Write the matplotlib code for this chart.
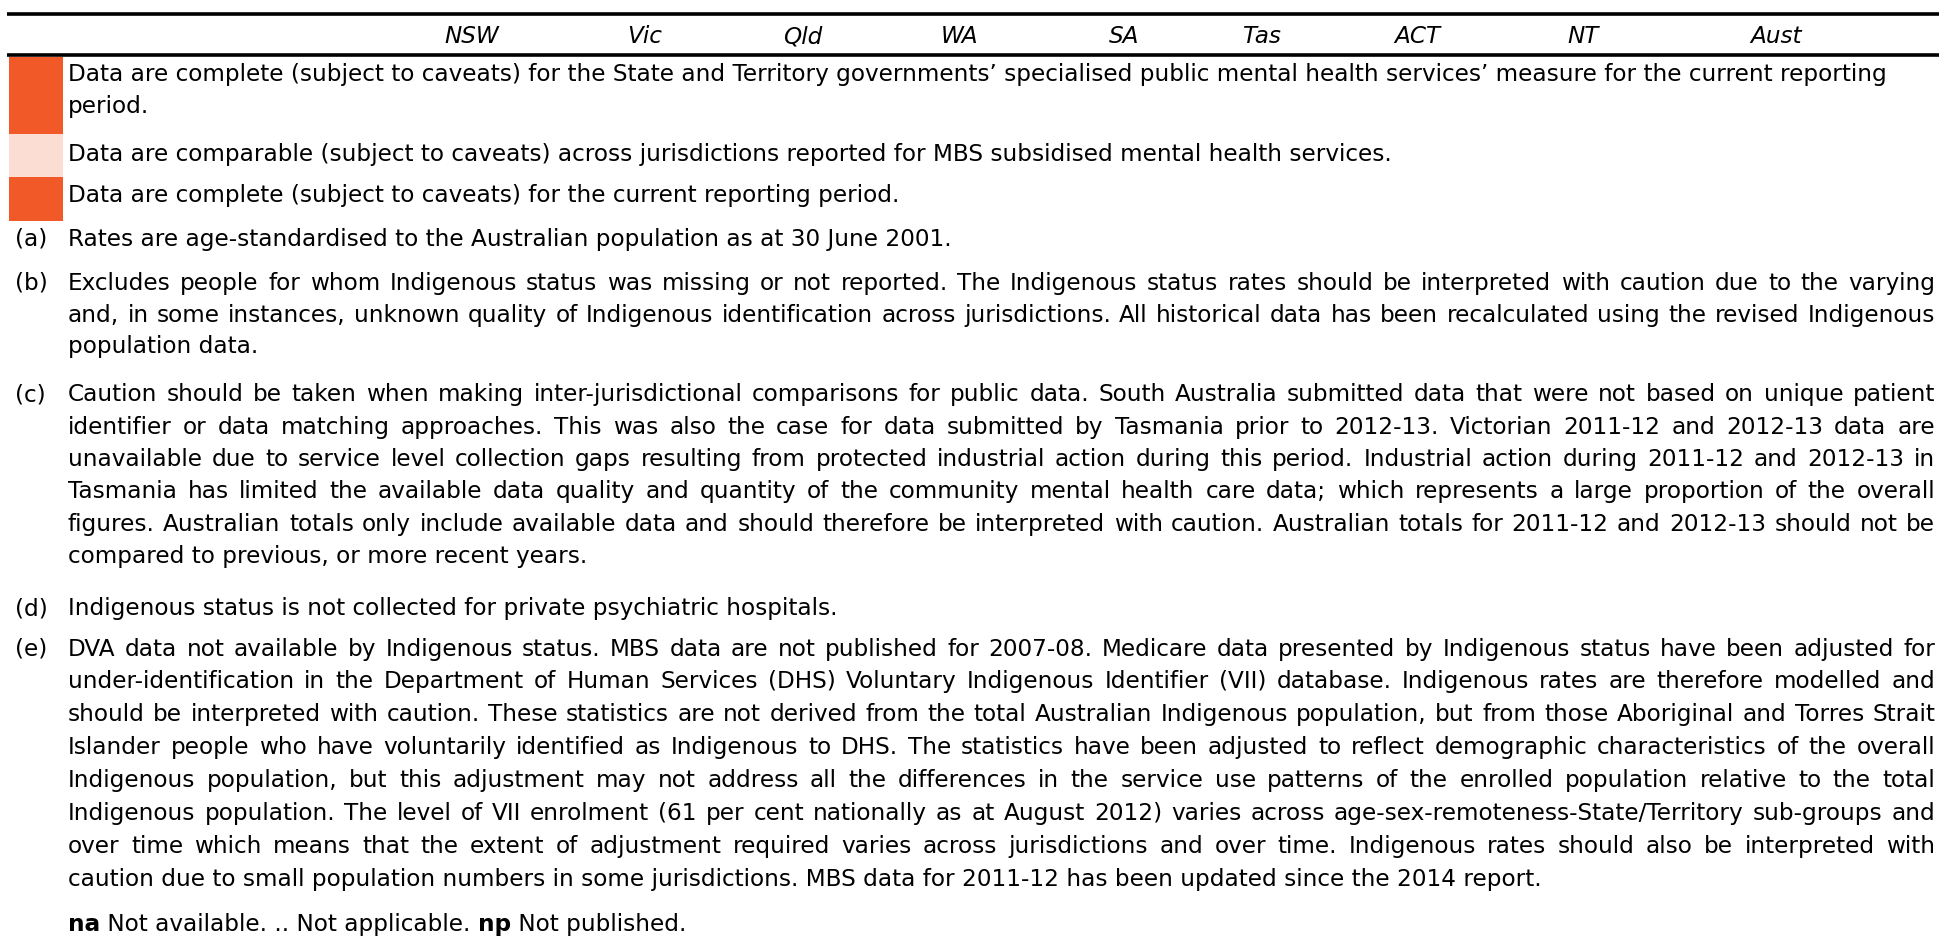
import matplotlib
matplotlib.use("Agg")
import matplotlib.pyplot as plt
from matplotlib.patches import Rectangle

# column heads
states = ["NSW", "Vic", "Qld", "WA", "SA", "Tas", "ACT", "NT", "Aust"]

# shaded key rows
key_colours = ["#F15A28", "#FCDDD3", "#F15A28"]
key_lines = [
    ["Data are complete (subject to caveats) for the State and Territory governments\u2019 specialised public mental health services\u2019 measure for the current reporting",
     "period."],
    ["Data are comparable (subject to caveats) across jurisdictions reported for MBS subsidised mental health services."],
    ["Data are complete (subject to caveats) for the current reporting period."],
]

note_labels = ["(a)", "(b)", "(c)", "(d)", "(e)"]
note_lines = [
    ["Rates are age-standardised to the Australian population as at 30 June 2001."],
    ["Excludes people for whom Indigenous status was missing or not reported. The Indigenous status rates should be interpreted with caution due to the varying",
     "and, in some instances, unknown quality of Indigenous identification across jurisdictions. All historical data has been recalculated using the revised Indigenous",
     "population data."],
    ["Caution should be taken when making inter-jurisdictional comparisons for public data. South Australia submitted data that were not based on unique patient",
     "identifier or data matching approaches. This was also the case for data submitted by Tasmania prior to 2012-13. Victorian 2011-12 and 2012-13 data are",
     "unavailable due to service level collection gaps resulting from protected industrial action during this period. Industrial action during 2011-12 and 2012-13 in",
     "Tasmania has limited the available data quality and quantity of the community mental health care data; which represents a large proportion of the overall",
     "figures. Australian totals only include available data and should therefore be interpreted with caution. Australian totals for 2011-12 and 2012-13 should not be",
     "compared to previous, or more recent years."],
    ["Indigenous status is not collected for private psychiatric hospitals."],
    ["DVA data not available by Indigenous status. MBS data are not published for 2007-08. Medicare data presented by Indigenous status have been adjusted for",
     "under-identification in the Department of Human Services (DHS) Voluntary Indigenous Identifier (VII) database. Indigenous rates are therefore modelled and",
     "should be interpreted with caution. These statistics are not derived from the total Australian Indigenous population, but from those Aboriginal and Torres Strait",
     "Islander people who have voluntarily identified as Indigenous to DHS. The statistics have been adjusted to reflect demographic characteristics of the overall",
     "Indigenous population, but this adjustment may not address all the differences in the service use patterns of the enrolled population relative to the total",
     "Indigenous population. The level of VII enrolment (61 per cent nationally as at August 2012) varies across age-sex-remoteness-State/Territory sub-groups and",
     "over time which means that the extent of adjustment required varies across jurisdictions and over time. Indigenous rates should also be interpreted with",
     "caution due to small population numbers in some jurisdictions. MBS data for 2011-12 has been updated since the 2014 report."],
]

symbols = [("na", True), (" Not available. .. Not applicable. ", False), ("np", True), (" Not published.", False)]

# layout (pixels)
W, H = 1939, 939
state_x = [472, 645, 803, 960, 1124, 1262, 1417, 1583, 1776]
key_base = [[81, 113], [161], [202]]
key_box = [(57, 134), (134, 177), (177, 221)]
note_base = [[246], [290, 322, 353], [401, 434, 466, 498, 531, 563], [615],
             [656, 688, 721, 754, 787, 820, 853, 886]]
sym_base = 931
LEFT, RIGHT = 68, 1935
KEY_W = 1820  # width of the first key line in the reference
plt.rcParams["font.family"] = ["DejaVu Sans"]

fig = plt.figure(figsize=(W / 100, H / 100), dpi=100)
ax = fig.add_axes([0, 0, 1, 1])
ax.set_xlim(0, W)
ax.set_ylim(H, 0)
ax.axis("off")
renderer = fig.canvas.get_renderer()


def width(s, fs, **kw):
    t = ax.text(0, 0, s, fontsize=fs, **kw)
    w = t.get_window_extent(renderer).width
    t.remove()
    return w


FS = 16.0
FS = FS * KEY_W / width(key_lines[0][0], FS)


def put_line(s, y, justify=False):
    if not justify:
        ax.text(LEFT, y, s, fontsize=FS, va="baseline", ha="left")
        return
    words = s.split(" ")
    ws = [width(w, FS) for w in words]
    gap = (RIGHT - LEFT - sum(ws)) / (len(words) - 1)
    x = LEFT
    for w, wd in zip(words, ws):
        ax.text(x, y, w, fontsize=FS, va="baseline", ha="left")
        x += wd + gap


# rules and column heads
ax.hlines([14, 55], 7, W, color="black", lw=2.6)
for s, x in zip(states, state_x):
    ax.text(x, 43, s, fontsize=FS, style="italic", ha="center", va="baseline")

# key rows
for c, (y0, y1), lines, ys in zip(key_colours, key_box, key_lines, key_base):
    ax.add_patch(Rectangle((9, y0), 54, y1 - y0, color=c, lw=0))
    for s, y in zip(lines, ys):
        put_line(s, y)

# notes
for lab, lines, ys in zip(note_labels, note_lines, note_base):
    ax.text(15, ys[0], lab, fontsize=FS, va="baseline", ha="left")
    for i, (s, y) in enumerate(zip(lines, ys)):
        put_line(s, y, justify=(i < len(lines) - 1))

x = LEFT
for s, bold in symbols:
    wt = "bold" if bold else "normal"
    ax.text(x, sym_base, s, fontsize=FS, va="baseline", ha="left", weight=wt)
    x += width(s, FS, weight=wt)

fig.savefig("out.png", dpi=100)
